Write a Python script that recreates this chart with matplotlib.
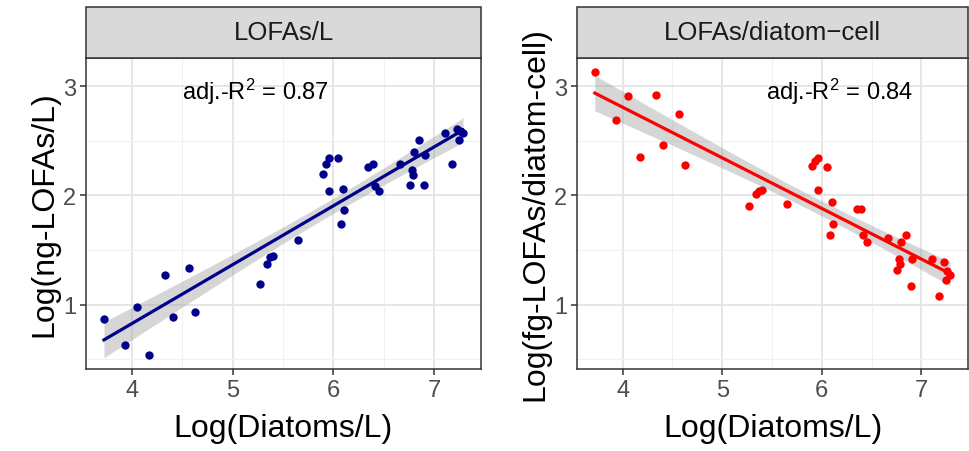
import numpy as np
import matplotlib.pyplot as plt
from matplotlib.patches import Rectangle

plt.rcParams['font.family'] = ['Liberation Sans', 'DejaVu Sans']
plt.rcParams['mathtext.fontset'] = 'custom'
plt.rcParams['mathtext.rm'] = 'Liberation Sans'
plt.rcParams['mathtext.default'] = 'regular'

# log10 diatom density per sample
log_diatoms = [3.72, 3.93, 4.05, 4.17, 4.33, 4.41, 4.57, 4.63, 5.27, 5.34,
               5.37, 5.40, 5.65, 5.90, 5.93, 5.96, 6.05, 5.96, 6.10, 6.11,
               6.08, 6.35, 6.39, 6.41, 6.45, 6.66, 6.76, 6.78, 6.79, 6.80,
               6.85, 6.90, 6.91, 7.11, 7.18, 7.23, 7.25, 7.29, 7.26]

# log10 ng LOFAs per litre
log_lofa_l = [0.87, 0.63, 0.98, 0.54, 1.27, 0.89, 1.34, 0.93, 1.19, 1.37,
              1.44, 1.45, 1.59, 2.20, 2.29, 2.34, 2.34, 2.04, 2.06, 1.87,
              1.74, 2.26, 2.29, 2.09, 2.04, 2.29, 2.10, 2.23, 2.19, 2.40,
              2.51, 2.10, 2.37, 2.57, 2.29, 2.61, 2.51, 2.57, 2.59]

# log10 fg LOFAs per diatom cell
log_lofa_cell = [3.13, 2.69, 2.91, 2.35, 2.92, 2.46, 2.75, 2.28, 1.90, 2.01,
                 2.04, 2.05, 1.92, 2.27, 2.32, 2.34, 2.26, 2.05, 1.94, 1.74,
                 1.64, 1.88, 1.88, 1.64, 1.57, 1.61, 1.32, 1.42, 1.37, 1.57,
                 1.64, 1.17, 1.42, 1.42, 1.08, 1.39, 1.23, 1.27, 1.31]

panel_titles = ['LOFAs/L', 'LOFAs/diatom\u2212cell']
y_titles = ['Log(ng-LOFAs/L)', 'Log(fg-LOFAs/diatom-cell)']
adj_r2 = [0.87, 0.84]
colors = ['#00008B', '#FF0000']
label_pos = [(5.23, 2.96), (6.18, 2.96)]

x = np.array(log_diatoms)
series = [np.array(log_lofa_l), np.array(log_lofa_cell)]

# shared scales with ggplot-like 5% expansion
xr = x.max() - x.min()
xlim = (x.min() - 0.05 * xr, x.max() + 0.05 * xr)
ally = np.concatenate(series)
yr = ally.max() - ally.min()
ylim = (ally.min() - 0.05 * yr, ally.max() + 0.05 * yr)

W, H = 969, 452
fig = plt.figure(figsize=(W / 100, H / 100), dpi=100)
boxes = [(86, 481), (577, 968)]
top, bottom, strip_top = 59, 370, 7.5

for i, (x0, x1) in enumerate(boxes):
    ax = fig.add_axes([x0 / W, (H - bottom) / H, (x1 - x0) / W, (bottom - top) / H])
    y = series[i]

    # linear fit with 95% confidence band
    n = len(x)
    slope, icept = np.polyfit(x, y, 1)
    resid = y - (slope * x + icept)
    s = np.sqrt(np.sum(resid ** 2) / (n - 2))
    xs = np.linspace(x.min(), x.max(), 100)
    ys = slope * xs + icept
    se = s * np.sqrt(1 / n + (xs - x.mean()) ** 2 / np.sum((x - x.mean()) ** 2))
    t = 2.026
    ax.fill_between(xs, ys - t * se, ys + t * se, color='#999999', alpha=0.4,
                    linewidth=0, zorder=2)
    ax.scatter(x, y, s=36, color=colors[i], linewidths=0, zorder=3)
    ax.plot(xs, ys, color=colors[i], lw=2.3, zorder=4)

    ax.text(label_pos[i][0], label_pos[i][1],
            r'adj.-R$^2$' + ' = {:.2f}'.format(adj_r2[i]),
            fontsize=17, ha='center', va='center', color='black', zorder=5)

    ax.set_xlim(xlim)
    ax.set_ylim(ylim)
    ax.set_xticks([4, 5, 6, 7])
    ax.set_xticks([4.5, 5.5, 6.5], minor=True)
    ax.set_yticks([1, 2, 3])
    ax.set_yticks([0.5, 1.5, 2.5], minor=True)
    ax.grid(which='major', color='#E6E6E6', lw=1.4, zorder=0)
    ax.grid(which='minor', color='#F0F0F0', lw=0.8, zorder=0)
    ax.set_axisbelow(True)
    ax.tick_params(which='major', length=4, width=1.1, color='#333333',
                   labelcolor='#4D4D4D', labelsize=17, pad=3)
    ax.tick_params(which='minor', length=0)
    for sp in ax.spines.values():
        sp.set_color('#333333')
        sp.set_linewidth(1.1)

    ax.set_xlabel('Log(Diatoms/L)', fontsize=23, labelpad=9)
    ax.set_ylabel(y_titles[i], fontsize=23, labelpad=3)

    # facet strip above the panel
    strip = fig.add_axes([x0 / W, (H - top) / H, (x1 - x0) / W, (top - strip_top) / H])
    strip.add_patch(Rectangle((0, 0), 1, 1, facecolor='#D9D9D9', edgecolor='#333333',
                              lw=1.1, transform=strip.transAxes, clip_on=False))
    strip.text(0.5, 0.5, panel_titles[i], ha='center', va='center',
               fontsize=18.5, color='#1A1A1A')
    strip.set_axis_off()

fig.savefig('out.png', dpi=100)
